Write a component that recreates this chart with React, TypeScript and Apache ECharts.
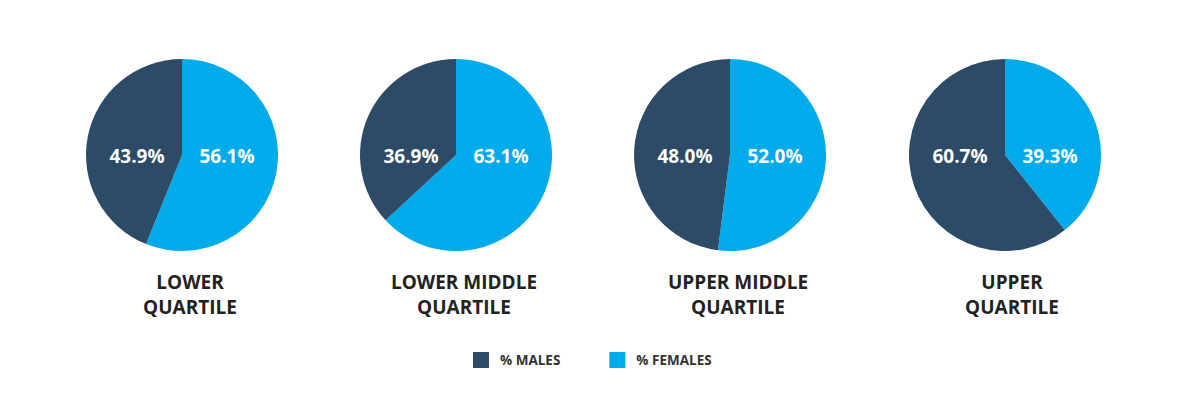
import React, { useEffect, useRef } from "react";
import * as echarts from "echarts";

const quartiles = ["LOWER\nQUARTILE", "LOWER MIDDLE\nQUARTILE", "UPPER MIDDLE\nQUARTILE", "UPPER\nQUARTILE"];
const males = [43.9, 36.9, 48.0, 60.7];
const females = [56.1, 63.1, 52.0, 39.3];
const seriesNames = ["% MALES", "% FEMALES"];

const MALE_COLOR = "#2d4a66";
const FEMALE_COLOR = "#00abec";
const centersX = [182, 456, 730, 1005];
const titleX = [190, 464, 738, 1012];
const centerY = 155;
const FONT = "'Open Sans', sans-serif";

export default function App() {
  const ref = useRef<HTMLDivElement>(null);
  useEffect(() => {
    if (!ref.current) return;
    const chart = echarts.init(ref.current, null, { renderer: "svg" });
    const series = quartiles.map((q, i) => ({
      type: "pie",
      name: q,
      center: [centersX[i], centerY],
      radius: [0, 96],
      startAngle: 90,
      clockwise: true,
      silent: true,
      label: {
        show: true,
        position: "inside",
        formatter: (p: any) => p.value.toFixed(1) + "%",
        color: "#ffffff",
        fontFamily: FONT,
        fontWeight: "bold",
        fontSize: 19,
      },
      labelLine: { show: false },
      labelLayout: (params: any) => ({
        x: centersX[i] + (params.dataIndex === 0 ? 45 : -45),
        y: centerY + 1,
        align: "center",
        verticalAlign: "middle",
      }),
      itemStyle: { borderWidth: 0 },
      data: [
        { name: seriesNames[1], value: females[i], itemStyle: { color: FEMALE_COLOR } },
        { name: seriesNames[0], value: males[i], itemStyle: { color: MALE_COLOR } },
      ],
    }));
    chart.setOption({
      animation: false,
      color: [MALE_COLOR, FEMALE_COLOR],
      legend: {
        data: [
          { name: seriesNames[0], itemStyle: { color: MALE_COLOR } },
          { name: seriesNames[1], itemStyle: { color: FEMALE_COLOR } },
        ],
        left: 473,
        top: 352,
        icon: "rect",
        itemWidth: 16,
        itemHeight: 16,
        itemGap: 49,
        padding: 0,
        selectedMode: false,
        textStyle: {
          fontFamily: FONT,
          fontWeight: "bold",
          fontSize: 13.5,
          color: "#333333",
          padding: [0, 0, 0, 6],
        },
      },
      graphic: quartiles.map((q, i) => ({
        type: "text",
        x: titleX[i],
        y: 269,
        style: {
          text: q,
          align: "center",
          verticalAlign: "top",
          fontFamily: FONT,
          fontWeight: "bold",
          fontSize: 19,
          lineHeight: 25,
          fill: "#222222",
        },
      })),
      series,
    });
    return () => chart.dispose();
  }, []);
  return (
    <div
      ref={ref}
      style={{ position: "fixed", left: 0, top: 0, width: 1185, height: 400, background: "#ffffff" }}
    />
  );
}
